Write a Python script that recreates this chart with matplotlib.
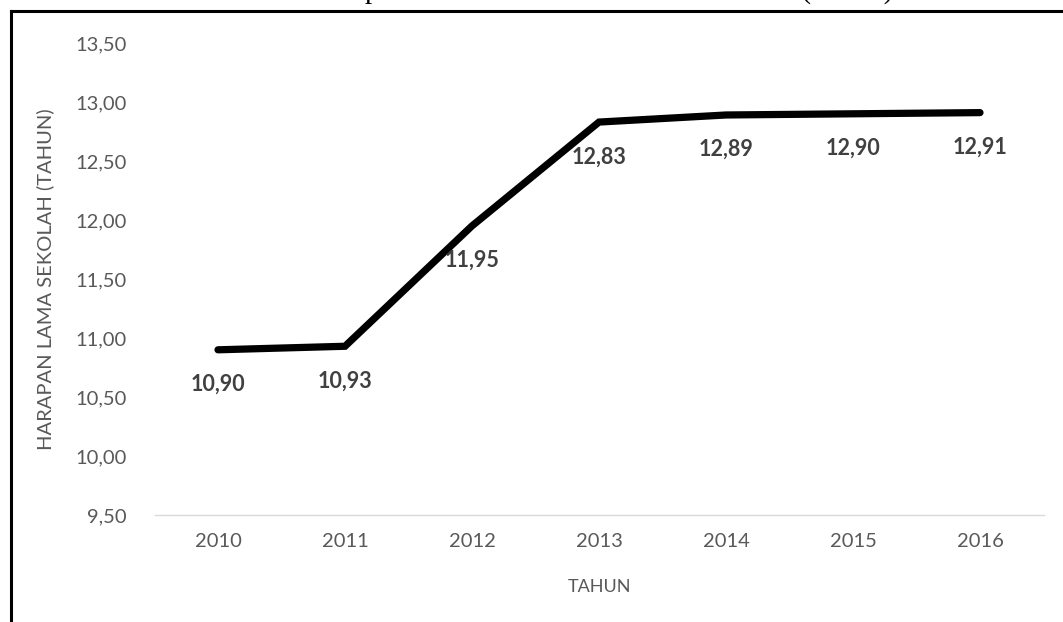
import matplotlib
matplotlib.use("Agg")
import matplotlib.pyplot as plt
from matplotlib.lines import Line2D

years = ['2010', '2011', '2012', '2013', '2014', '2015', '2016']
hls = [10.90, 10.93, 11.95, 12.83, 12.89, 12.90, 12.91]
yticks = [9.5, 10.0, 10.5, 11.0, 11.5, 12.0, 12.5, 13.0, 13.5]

plt.rcParams['font.family'] = ['Lato', 'DejaVu Sans']

fig = plt.figure(figsize=(10.63, 6.22), dpi=100)
ax = fig.add_axes([154.5 / 1063, 1 - 515 / 622, 889 / 1063, 472 / 622])

x = list(range(len(years)))
ax.plot(x, hls, color='black', linewidth=5.2, solid_capstyle='round', solid_joinstyle='miter')

for xi, v in zip(x, hls):
    ax.annotate(f"{v:.2f}".replace('.', ','), (xi, v), xytext=(0, -25),
                textcoords='offset points', ha='center', va='center',
                fontsize=15.5, fontweight='bold', color='#404040')

ax.set_xlim(-0.5, len(years) - 0.5)
ax.set_ylim(9.5, 13.5)
ax.set_xticks(x)
ax.set_xticklabels(years)
ax.set_yticks(yticks)
ax.set_yticklabels([f"{t:.2f}".replace('.', ',') for t in yticks])
ax.tick_params(axis='both', length=0, labelsize=14.5, colors='#595959')
ax.tick_params(axis='y', pad=20)
ax.tick_params(axis='x', pad=13)

for s in ['top', 'right', 'left']:
    ax.spines[s].set_visible(False)
ax.spines['bottom'].set_color('#d9d9d9')
ax.spines['bottom'].set_linewidth(1)

ax.set_xlabel('TAHUN', fontsize=13, color='#595959')
ax.xaxis.set_label_coords(0.5, -0.136)
ax.set_ylabel('HARAPAN LAMA SEKOLAH (TAHUN)', fontsize=14.5, color='#595959')
ax.yaxis.set_label_coords(-0.113, 0.5)

# frame of the chart object (cut at right and bottom)
fig.add_artist(Line2D([10.5 / 1063, 10.5 / 1063], [0, 1 - 11 / 622], color='black', linewidth=2.2,
                      transform=fig.transFigure, solid_capstyle='projecting'))
fig.add_artist(Line2D([10.5 / 1063, 1], [1 - 11 / 622, 1 - 11 / 622], color='black', linewidth=2.2,
                      transform=fig.transFigure, solid_capstyle='projecting'))

# caption above, mostly cropped off
fig.text(893 / 1063, 1 + 1 / 622, 'Grafik Harapan Lama Sekolah Tahun 2010-2016 (Tahun)',
         ha='right', va='baseline', fontsize=21, family='Liberation Serif', color='black')

fig.savefig('out.png', dpi=100)
